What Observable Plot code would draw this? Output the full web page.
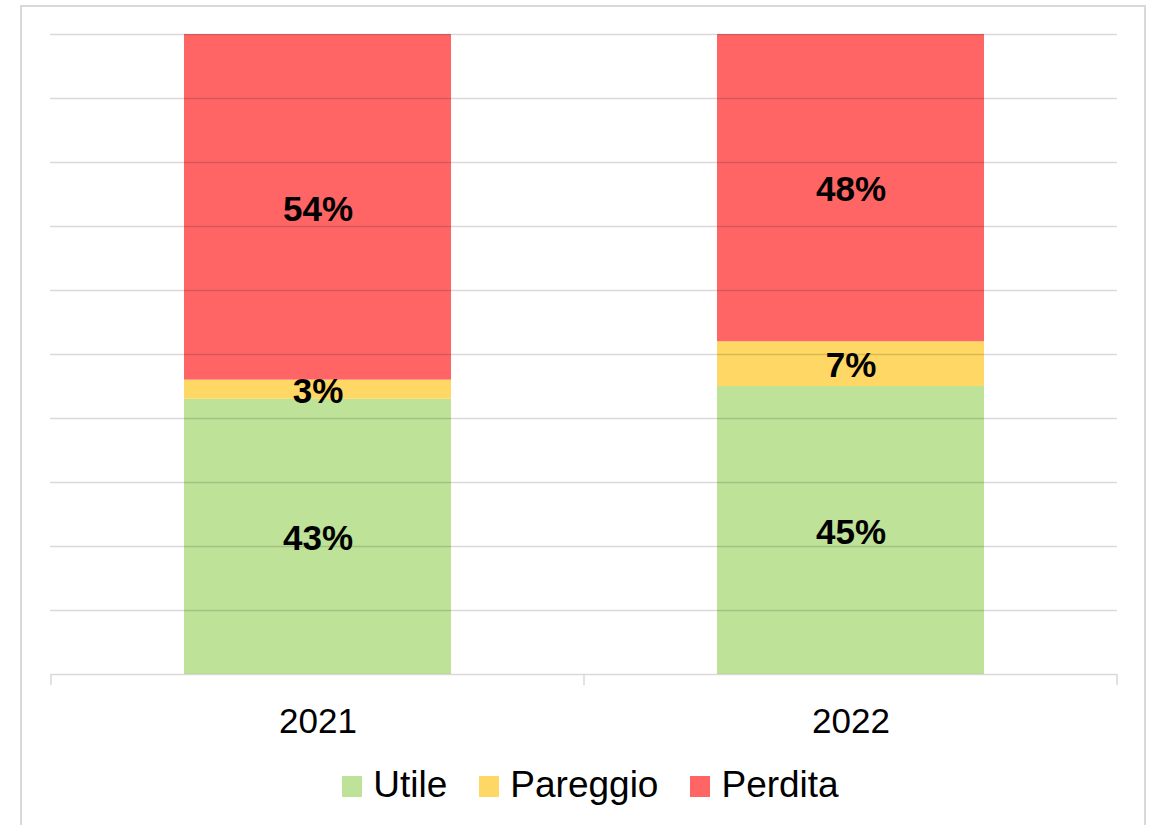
<!DOCTYPE html>
<html>
<head>
<meta charset="utf-8">
<script src="https://cdn.jsdelivr.net/npm/d3@7"></script>
<script src="https://cdn.jsdelivr.net/npm/@observablehq/plot@0.6"></script>
<style>
  html, body { margin: 0; padding: 0; background: #fff; width: 1161px; height: 825px; overflow: hidden; }
  #frame { position: absolute; left: 20px; top: 5px; width: 1126px; height: 840px; border: 2px solid #d9d9d9; box-sizing: border-box; }
  #chart { position: absolute; left: 0; top: 0; }
  #legend { position: absolute; left: 0; width: 1161px; top: 764px; display: flex; justify-content: center; padding-left: 20px; box-sizing: border-box;
            font-family: "Liberation Sans", Arial, sans-serif; font-size: 37px; color: #000; }
  .item { display: flex; align-items: center; margin: 0 16px; }
  .sw { width: 20px; height: 21px; margin-right: 11px; margin-top: 2px; }
</style>
</head>
<body>
<div id="frame"></div>
<div id="chart"></div>
<div id="legend"></div>
<script>
const years = ["2021", "2022"];
const series = ["Utile", "Pareggio", "Perdita"];
const colors = ["#bee298", "#fed764", "#ff6565"];
const utile = [43, 45];
const pareggio = [3, 7];
const perdita = [54, 48];
const gridTicks = [0, 10, 20, 30, 40, 50, 60, 70, 80, 90, 100];

const values = [utile, pareggio, perdita];
const data = [];
series.forEach((s, i) => years.forEach((y, j) => data.push({year: y, series: s, value: values[i][j]})));

// tick marks at band boundaries, computed from the x band scale
function bandBoundaryTicks(index, scales, vals, dims) {
  const x = scales.x;
  const bw = x.bandwidth ? x.bandwidth() : 0;
  const step = x.step ? x.step() : 0;
  const y0 = dims.height - dims.marginBottom;
  const xs = new Set();
  for (const d of x.domain()) {
    const c = x(d) + bw / 2;
    xs.add(Math.round((c - step / 2) * 10) / 10);
    xs.add(Math.round((c + step / 2) * 10) / 10);
  }
  const g = d3.create("svg:g");
  for (const xv of xs) {
    g.append("line").attr("x1", xv).attr("x2", xv).attr("y1", y0).attr("y2", y0 + 11)
      .attr("stroke", "#d9d9d9").attr("stroke-width", 1.5);
  }
  return g.node();
}

const plot = Plot.plot({
  width: 1161,
  height: 750,
  marginLeft: 50,
  marginRight: 44,
  marginTop: 34,
  marginBottom: 76,
  style: {fontFamily: "'Liberation Sans', Arial, sans-serif", background: "transparent"},
  x: {domain: years, paddingInner: 0.5, paddingOuter: 0.25, label: null},
  y: {domain: [0, 100], axis: null},
  color: {domain: series, range: colors},
  marks: [
    Plot.barY(data, Plot.stackY({x: "year", y: "value", z: "series", fill: "series", order: series})),
    Plot.ruleY(gridTicks, {stroke: "#000", strokeOpacity: 0.15, strokeWidth: 1.5}),
    Plot.text(data, Plot.stackY({x: "year", y: "value", z: "series", order: series,
      text: d => d.value + "%", fontSize: 35, fontWeight: "bold", fill: "#000", dy: 2})),
    Plot.axisX({tickSize: 0, tickPadding: 34, fontSize: 35, fill: "#000"}),
    bandBoundaryTicks
  ]
});
document.getElementById("chart").append(plot);

const legend = document.getElementById("legend");
series.forEach((s, i) => {
  const it = document.createElement("div");
  it.className = "item";
  const sw = document.createElement("div");
  sw.className = "sw";
  sw.style.background = colors[i];
  const t = document.createElement("span");
  t.textContent = s;
  it.append(sw, t);
  legend.append(it);
});
</script>
</body>
</html>
